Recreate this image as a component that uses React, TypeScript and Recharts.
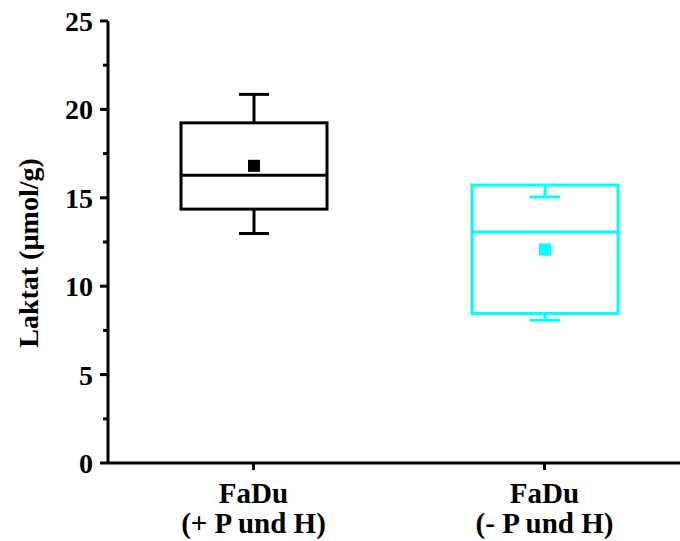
import { ComposedChart, Bar, XAxis, YAxis } from 'recharts'

const categories = ['FaDu\n(+ P und H)', 'FaDu\n(- P und H)']
const boxMin = [12.98, 8.08]
const boxQ1 = [14.36, 8.46]
const boxMedian = [16.28, 13.07]
const boxQ3 = [19.24, 15.72]
const boxMax = [20.85, 15.05]
const boxMean = [16.81, 12.08]
const boxColors = ['#000000', '#00FFFF']
const yTicks = [0, 2.5, 5, 7.5, 10, 12.5, 15, 17.5, 20, 22.5, 25]

const textStyle = { fontFamily: 'Liberation Serif, Times New Roman, serif', fontWeight: 700, fontSize: 28 }

const data = categories.map((name, i) => ({
    name,
    low: Math.min(boxMin[i], boxQ1[i]),
    high: Math.max(boxMax[i], boxQ3[i]),
}))

function BoxShape(props: any) {
    const { x, width, index } = props
    const top = Math.min(props.y, props.y + props.height)
    const h = Math.abs(props.height)
    const d = data[index]
    const ppu = h / (d.high - d.low)
    const yOf = (v: number) => top + (d.high - v) * ppu
    const cx = x + width / 2
    const color = boxColors[index]
    const capW = 15
    return (
        <g stroke={color} strokeWidth={3} fill="none">
            <rect x={x} y={yOf(boxQ3[index])} width={width} height={yOf(boxQ1[index]) - yOf(boxQ3[index])} />
            <line x1={cx} x2={cx} y1={yOf(boxQ3[index])} y2={yOf(boxMax[index])} />
            <line x1={cx - capW} x2={cx + capW} y1={yOf(boxMax[index])} y2={yOf(boxMax[index])} />
            <line x1={cx} x2={cx} y1={yOf(boxQ1[index])} y2={yOf(boxMin[index])} />
            <line x1={cx - capW} x2={cx + capW} y1={yOf(boxMin[index])} y2={yOf(boxMin[index])} />
            <line x1={x} x2={x + width} y1={yOf(boxMedian[index])} y2={yOf(boxMedian[index])} />
            <rect x={cx - 6} y={yOf(boxMean[index]) - 6} width={12} height={12} fill={color} stroke="none" />
        </g>
    )
}

function YTick(props: any) {
    const { x, y, payload } = props
    const major = payload.value % 5 === 0
    return (
        <g>
            <line x1={x - (major ? 8 : 5)} x2={x} y1={y} y2={y} stroke="#000" strokeWidth={3} />
            {major && (
                <text x={x - 15} y={y} dy={10} textAnchor="end" style={textStyle} fill="#000">
                    {payload.value}
                </text>
            )}
        </g>
    )
}

function XTick(props: any) {
    const { x, y, payload } = props
    const lines = String(payload.value).split('\n')
    return (
        <g>
            <line x1={x} x2={x} y1={y} y2={y + 7} stroke="#000" strokeWidth={3} />
            {lines.map((t, i) => (
                <text key={i} x={x} y={y + 40 + i * 30} textAnchor="middle" style={{ ...textStyle, fontSize: 29 }} fill="#000">
                    {t}
                </text>
            ))}
        </g>
    )
}

export default function App() {
    return (
        <div style={{ position: 'absolute', left: 0, top: 0, width: 680, height: 541, overflow: 'hidden', background: '#fff' }}>
            <ComposedChart width={700} height={541} data={data} margin={{ top: 21, right: 10, bottom: 0, left: 0 }}>
                <XAxis
                    dataKey="name"
                    type="category"
                    height={78}
                    axisLine={{ stroke: '#000', strokeWidth: 3 }}
                    tickLine={false}
                    tickSize={0}
                    tickMargin={0}
                    tick={<XTick />}
                    interval={0}
                />
                <YAxis
                    width={108}
                    domain={[0, 25]}
                    ticks={yTicks}
                    interval={0}
                    allowDataOverflow
                    axisLine={{ stroke: '#000', strokeWidth: 3 }}
                    tickLine={false}
                    tickSize={0}
                    tickMargin={0}
                    tick={<YTick />}
                    label={{
                        content: (p: any) => {
                            const vb = p.viewBox
                            const cy = vb.y + vb.height / 2 + 11
                            return (
                                <text x={38} y={cy} transform={`rotate(-90 38 ${cy})`} textAnchor="middle" style={textStyle} fill="#000">
                                    Laktat (µmol/g)
                                </text>
                            )
                        },
                    }}
                />
                <Bar dataKey={(d: any) => [d.low, d.high]} barSize={146} shape={<BoxShape />} isAnimationActive={false} />
            </ComposedChart>
        </div>
    )
}
